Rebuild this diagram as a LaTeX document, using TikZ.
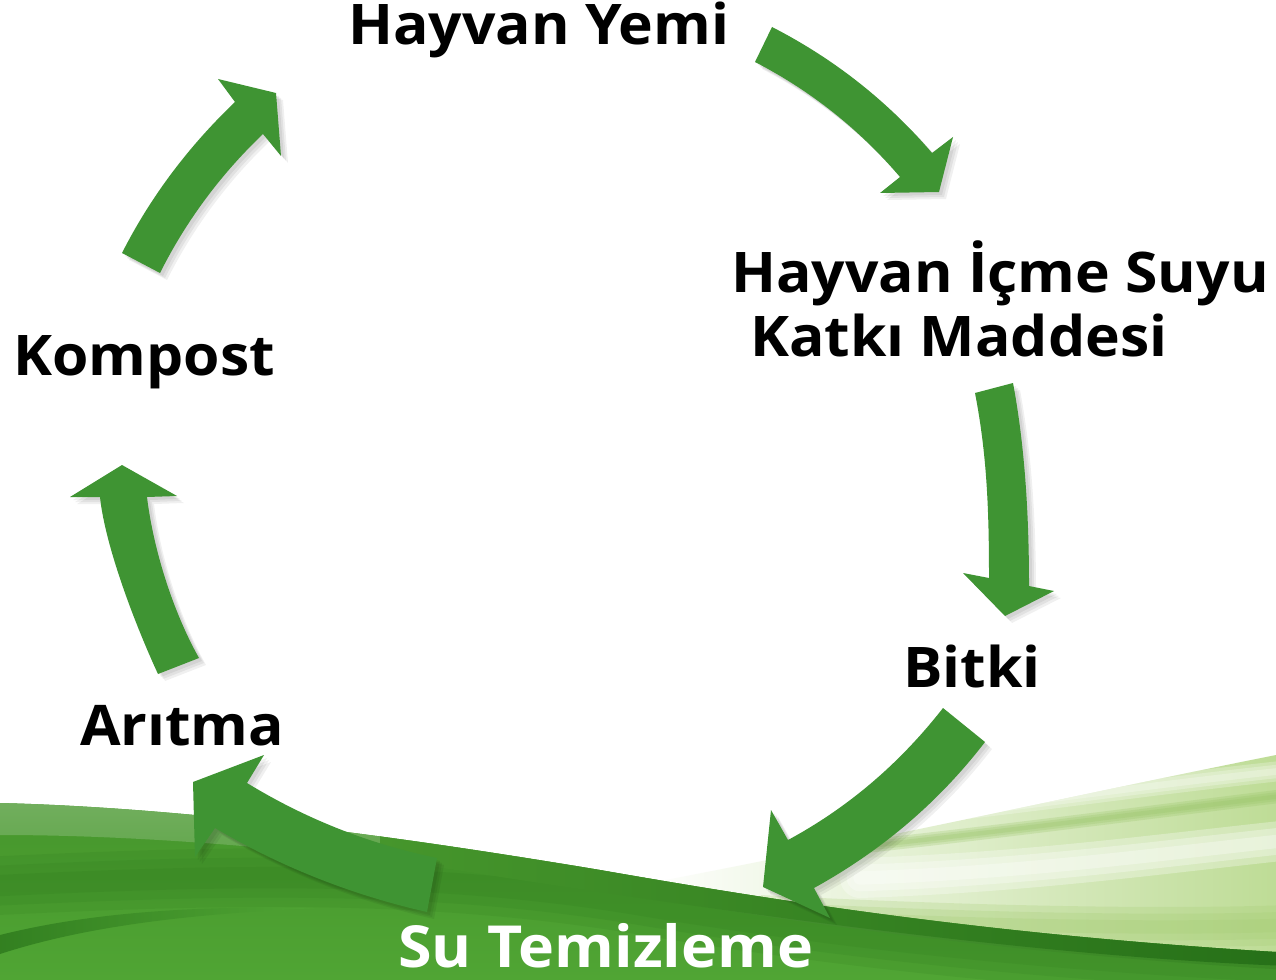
\documentclass[tikz,border=0pt]{standalone}
\usepackage{fontspec}
\setmainfont{Open Sans}[FakeStretch=1.05]
\definecolor{arrgreen}{RGB}{63,148,51}
\definecolor{grassA}{RGB}{70,150,44}
\definecolor{grassB}{RGB}{80,165,52}
\definecolor{grassDark}{RGB}{38,112,24}
\definecolor{streakG}{RGB}{150,195,100}
\definecolor{streakL}{RGB}{190,220,150}
\definecolor{streakY}{RGB}{165,205,115}
\def\arrA{(772,27) .. controls (833.5,58.5) and (887,100.5) .. (932,153) -- (953,137) -- (939,192) -- (880,193) -- (900,177) .. controls (859,129) and (811,91) .. (755,62) -- cycle}
\def\arrB{(1013,383) .. controls (1025,447) and (1029,516) .. (1029,586) -- (1054,591) -- (1005,616) -- (963,573) -- (989,578) .. controls (989,510) and (987,455) .. (975,393) -- cycle}
\def\arrC{(985,742) .. controls (938,803) and (881,851) .. (814,888) -- (830,918) -- (763,887) -- (771,810) -- (788,840) .. controls (849,807) and (900,763) .. (943,708) -- cycle}
\def\arrD{(427,912) .. controls (352,895) and (281,867) .. (215,828) -- (195,857) -- (193,782) -- (264,755) -- (247,783) .. controls (306,819) and (369,844) .. (437,858) -- cycle}
\def\arrE{(158,674) .. controls (134,622) and (105,545) .. (100,497) -- (70,497) -- (122,465) -- (177,496) -- (147,497) .. controls (153,547) and (172,610) .. (199,658) -- cycle}
\def\arrF{(122,253) .. controls (151,196) and (189,146) .. (235,102) -- (218,79) -- (276,93) -- (281,156) -- (263,134) .. controls (221,174) and (186,221) .. (160,273) -- cycle}
\def\grass{(0,803) .. controls (200,808) and (420,840) .. (600,870) .. controls (800,905) and (1000,935) .. (1276,952) -- (1276,980) -- (0,980) -- cycle}
\begin{document}
\begin{tikzpicture}[x=0.75pt,y=-0.75pt,
  lbl/.style={font=\fontsize{42}{50}\bfseries\selectfont, inner sep=0pt, text=black},
  arrfill/.style={fill=arrgreen},
  shadowfill/.style={fill=black, opacity=0.06},
  soft/.style={line cap=round}]
\useasboundingbox (0,0) rectangle (1276,980);
\fill[white] (0,0) rectangle (1276,980);
% light streak area on the right
\shade[left color=white, right color=streakL]
  (640,885) .. controls (900,835) and (1100,790) .. (1276,755)
  -- (1276,955) .. controls (1000,935) and (800,905) .. (640,885) -- cycle;
\begin{scope}
  \clip (640,885) .. controls (900,835) and (1100,790) .. (1276,755)
  -- (1276,955) .. controls (1000,935) and (800,905) .. (640,885) -- cycle;
  \foreach \w in {30,20,10}{
    \draw[streakY, line width=\w, opacity=0.25] (760,915) .. controls (950,925) and (1150,930) .. (1290,925);
    \draw[white, line width=\w, opacity=0.3, soft] (860,878) .. controls (1030,872) and (1150,855) .. (1290,840);
    \draw[streakG, line width=\w/3, opacity=0.25, soft] (850,848) .. controls (1000,832) and (1150,812) .. (1290,795);
    \draw[white, line width=\w/2, opacity=0.25, soft] (940,812) .. controls (1050,800) and (1150,785) .. (1290,770);
  }
\end{scope}
% main green grass
\shade[top color=grassA, bottom color=grassB] \grass;
\begin{scope}
  \clip \grass;
  \shade[top color=grassA!75!white, bottom color=grassA]
    (0,790) .. controls (200,795) and (420,828) .. (600,858) .. controls (800,893) and (1000,923) .. (1290,940)
    -- (1290,970) .. controls (1000,953) and (800,923) .. (600,890) .. controls (420,862) and (200,835) .. (0,835) -- cycle;
  \foreach \w in {44,30,16}{
    \draw[grassDark, line width=\w, opacity=0.12] (-10,886) .. controls (200,876) and (420,868) .. (640,905) .. controls (850,940) and (1050,960) .. (1290,972);
  }
  \shade[left color=grassDark!70!grassB, right color=grassB]
    (0,935) .. controls (80,915) and (180,905) .. (320,908) .. controls (180,914) and (80,928) .. (0,954) -- cycle;
  \shade[left color=grassA, right color=grassDark]
    (380,835) .. controls (600,868) and (1000,932) .. (1290,942)
    -- (1290,966) .. controls (1000,956) and (600,893) .. (380,858) -- cycle;
\end{scope}
% arrows: shadows
\foreach \d in {3,5,7}{
  \fill[shadowfill, shift={(\d,\d)}] \arrA;
  \fill[shadowfill, shift={(\d,\d)}] \arrB;
  \fill[shadowfill, shift={(\d,\d)}] \arrC;
  \fill[shadowfill, shift={(\d,\d)}] \arrD;
  \fill[shadowfill, shift={(\d,\d)}] \arrE;
  \fill[shadowfill, shift={(\d,\d)}] \arrF;
}
% arrows
\fill[arrfill] \arrA;
\fill[arrfill] \arrB;
\fill[arrfill] \arrC;
\fill[arrfill] \arrD;
\fill[arrfill] \arrE;
\fill[arrfill] \arrF;
% labels
\node[lbl, anchor=base west] (yemi) at (348,45) {Hayvan Yemi};
\node[lbl, anchor=base west] (icme) at (731,292) {Hayvan İçme Suyu};
\node[lbl, anchor=base west] (katki) at (750,356) {Katkı Maddesi};
\node[lbl, anchor=base west] (kompost) at (13,375) {Kompost};
\node[lbl, anchor=base west] (bitki) at (903,687) {Bitki};
\node[lbl, anchor=base west] (aritma) at (80,745) {Arıtma};
\node[lbl, anchor=base west, text=white, font=\fontsize{43.5}{50}\bfseries\selectfont] (su) at (398,967) {Su Temizleme};
\end{tikzpicture}
\end{document}
